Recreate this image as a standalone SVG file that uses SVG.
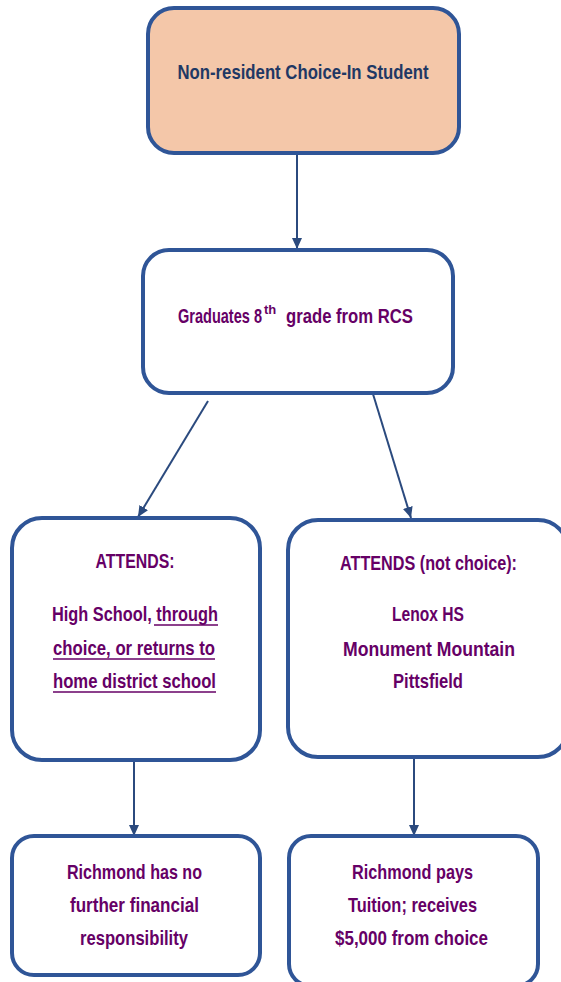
<svg xmlns="http://www.w3.org/2000/svg" width="561" height="982" viewBox="0 0 561 982">
<style>
.box{fill:#ffffff;stroke:#2F5597;stroke-width:4}
.top{fill:#F4C7A9}
.t{font-family:"Liberation Sans",Arial,sans-serif;font-weight:bold;font-size:21px;text-anchor:middle;fill:#660066}
.st{text-anchor:start}
.s{font-family:"Liberation Sans",Arial,sans-serif;font-weight:bold;font-size:13px;fill:#660066}
.n{fill:#1F3864}
.u{stroke:#660066;stroke-width:1.5}
.c{stroke:#2B4A7E;stroke-width:2;fill:none;marker-end:url(#ah)}
</style>
<defs>
<marker id="ah" markerUnits="userSpaceOnUse" markerWidth="12" markerHeight="12" viewBox="0 0 12 12" refX="11" refY="6" orient="auto">
<path d="M0,1 L11,6 L0,11 Z" fill="#2B4A7E"/>
</marker>
</defs>
<rect width="561" height="982" fill="#ffffff"/>
<g id="connectors">
<line class="c" x1="297" y1="153" x2="297" y2="249"/>
<line class="c" x1="208" y1="401" x2="138" y2="517"/>
<line class="c" x1="373" y1="394" x2="411" y2="518"/>
<line class="c" x1="134" y1="762" x2="134" y2="836"/>
<line class="c" x1="414" y1="759" x2="414" y2="836"/>
</g>
<g id="n1">
<rect class="box top" x="148" y="8" width="311" height="145" rx="26"/>
<text class="t n" x="303" y="79" textLength="251" lengthAdjust="spacingAndGlyphs">Non-resident Choice-In Student</text>
</g>
<g id="n2">
<rect class="box" x="143" y="250" width="310" height="143" rx="26"/>
<text class="t st" x="178" y="323" textLength="84" lengthAdjust="spacingAndGlyphs">Graduates 8</text>
<text class="s" x="264" y="314">th</text>
<text class="t st" x="286" y="323" textLength="127" lengthAdjust="spacingAndGlyphs">grade from RCS</text>
</g>
<g id="n3">
<rect class="box" x="12" y="518" width="248" height="242" rx="30"/>
<text class="t" x="135" y="568" textLength="79" lengthAdjust="spacingAndGlyphs">ATTENDS:</text>
<text class="t" x="135" y="621" textLength="166" lengthAdjust="spacingAndGlyphs">High School, through</text>
<text class="t" x="134" y="655" textLength="162" lengthAdjust="spacingAndGlyphs">choice, or returns to</text>
<text class="t" x="134.5" y="688" textLength="163" lengthAdjust="spacingAndGlyphs">home district school</text>
<line class="u" x1="154" y1="625" x2="218" y2="625"/>
<line class="u" x1="53" y1="659" x2="215" y2="659"/>
<line class="u" x1="53" y1="692" x2="216" y2="692"/>
</g>
<g id="n4">
<rect class="box" x="288" y="520" width="280" height="237" rx="30"/>
<text class="t" x="428.5" y="570" textLength="177" lengthAdjust="spacingAndGlyphs">ATTENDS (not choice):</text>
<text class="t" x="428" y="621" textLength="72" lengthAdjust="spacingAndGlyphs">Lenox HS</text>
<text class="t" x="429" y="656" textLength="172" lengthAdjust="spacingAndGlyphs">Monument Mountain</text>
<text class="t" x="428" y="688" textLength="70" lengthAdjust="spacingAndGlyphs">Pittsfield</text>
</g>
<g id="n5">
<rect class="box" x="12" y="836" width="248" height="139" rx="22"/>
<text class="t" x="134.5" y="879" textLength="135" lengthAdjust="spacingAndGlyphs">Richmond has no</text>
<text class="t" x="134.5" y="912" textLength="129" lengthAdjust="spacingAndGlyphs">further financial</text>
<text class="t" x="134" y="945" textLength="108" lengthAdjust="spacingAndGlyphs">responsibility</text>
</g>
<g id="n6">
<rect class="box" x="289" y="836" width="249" height="150" rx="22"/>
<text class="t" x="412.5" y="879" textLength="121" lengthAdjust="spacingAndGlyphs">Richmond pays</text>
<text class="t" x="412.5" y="912" textLength="129" lengthAdjust="spacingAndGlyphs">Tuition; receives</text>
<text class="t" x="411.5" y="945" textLength="153" lengthAdjust="spacingAndGlyphs">$5,000 from choice</text>
</g>
</svg>
